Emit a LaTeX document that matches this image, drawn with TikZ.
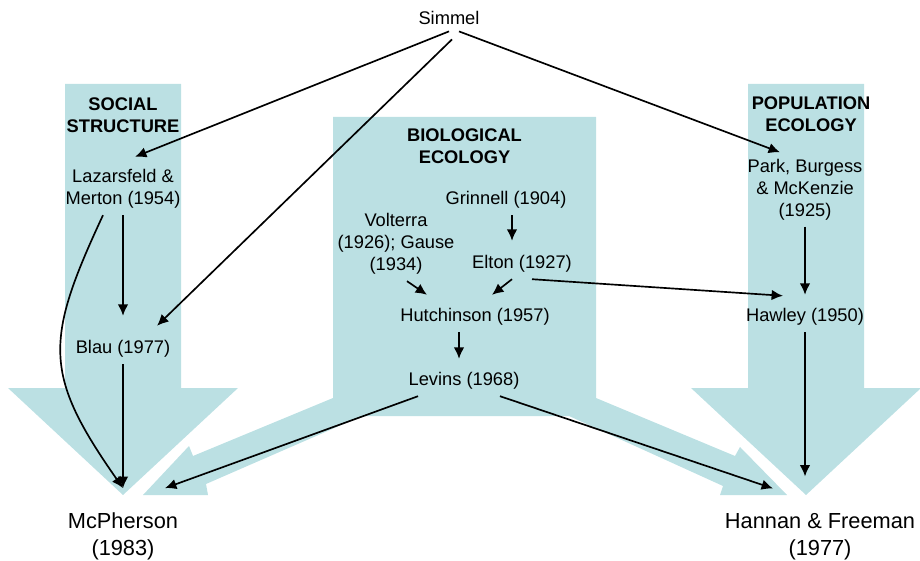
\documentclass[tikz,border=0pt]{standalone}
\usepackage{fontspec}
\setmainfont{Liberation Sans}
\usetikzlibrary{arrows.meta}
\definecolor{bandblue}{RGB}{187,224,227}
\begin{document}
\begin{tikzpicture}[txt/.style={align=center,font=\fontsize{10.4}{12.5}\selectfont},
  hdr/.style={align=center,font=\fontsize{10.4}{12.5}\selectfont\bfseries},
  endtxt/.style={align=center,font=\fontsize{12.4}{15.4}\selectfont},
  band/.style={fill=bandblue,draw=none},
  >={Latex[length=6.5pt,width=6pt]},line width=0.95pt]
\useasboundingbox (0,0) rectangle (18.4,11.2);
% background bands
\fill[band] (1.3,9.52) -- (3.62,9.52) -- (3.62,3.44) -- (4.76,3.44) -- (2.46,1.30) -- (0.16,3.44) -- (1.3,3.44) -- cycle;
\fill[band] (14.96,9.52) -- (17.28,9.52) -- (17.28,3.44) -- (18.42,3.44) -- (16.12,1.30) -- (13.82,3.44) -- (14.96,3.44) -- cycle;
\fill[band] (6.66,8.86) -- (11.92,8.86) -- (11.92,3.24) -- (14.70,2.08) -- (14.80,2.26) -- (15.74,1.30) -- (14.40,1.30) -- (14.46,1.48)
  -- (11.38,2.88) -- (7.24,2.88) -- (4.12,1.52) -- (4.16,1.30) -- (2.86,1.30) -- (3.78,2.28) -- (3.86,2.08) -- (6.66,3.24) -- cycle;
% headings
\node[hdr] (social) at (2.46,8.90) {SOCIAL\\STRUCTURE};
\node[hdr] (biology) at (9.29,8.28) {BIOLOGICAL\\ECOLOGY};
\node[hdr] (population) at (16.22,8.92) {POPULATION\\ECOLOGY};
% authors
\node[txt] (simmel) at (8.98,10.84) {Simmel};
\node[txt] (laz) at (2.46,7.42) {Lazarsfeld \&\\Merton (1954)};
\node[txt] (blau) at (2.46,4.22) {Blau (1977)};
\node[txt] (park) at (16.10,7.41) {Park, Burgess\\\& McKenzie\\(1925)};
\node[txt] (hawley) at (16.10,4.86) {Hawley (1950)};
\node[txt] (grinnell) at (10.12,7.20) {Grinnell (1904)};
\node[txt] (volterra) at (7.92,6.32) {Volterra\\(1926); Gause\\(1934)};
\node[txt] (elton) at (10.44,5.92) {Elton (1927)};
\node[txt] (hutch) at (9.50,4.86) {Hutchinson (1957)};
\node[txt] (levins) at (9.28,3.58) {Levins (1968)};
\node[endtxt] (mcpherson) at (2.46,0.47) {McPherson\\(1983)};
\node[endtxt] (hannan) at (16.40,0.47) {Hannan \& Freeman\\(1977)};
% influences
\draw[->] (simmel.south) -- ([xshift=2.4mm,yshift=1.2mm]laz.north);
\draw[->] ([xshift=0.6mm,yshift=-1.6mm]simmel.south) -- ([xshift=6.8mm,yshift=1.6mm]blau.north);
\draw[->] ([xshift=2mm]simmel.south) -- ([xshift=-5mm]park.north);
\draw[->] (laz.south) -- ([yshift=3.6mm]blau.north);
\draw[->] ([xshift=-4mm]laz.south) to[out=-115,in=125,looseness=1.3] ([yshift=3.6mm]mcpherson.north);
\draw[->] (blau.south) -- ([yshift=3.6mm]mcpherson.north);
\draw[->] (park.south) -- ([yshift=1.4mm]hawley.north);
\draw[->] ([xshift=2mm]elton.south) -- ([xshift=-4.4mm,yshift=1.2mm]hawley.north);
\draw[->,shorten >=6mm] (hawley.south) -- (hawley.south |- hannan.north);
\draw[->] ([xshift=1.2mm]grinnell.south) -- ([xshift=-2mm,yshift=1.6mm]elton.north);
\draw[->] ([xshift=2.2mm]volterra.south) -- ([xshift=-9.6mm,yshift=1.4mm]hutch.north);
\draw[->] ([xshift=-2mm]elton.south) -- ([xshift=3.4mm,yshift=1.4mm]hutch.north);
\draw[->] ([xshift=-3.2mm]hutch.south) -- ([xshift=-1mm,yshift=1.4mm]levins.north);
\draw[->] ([xshift=-9.2mm]levins.south) -- ([xshift=8.4mm,yshift=3.6mm]mcpherson.north);
\draw[->] ([xshift=7.2mm]levins.south) -- ([xshift=-9.4mm,yshift=3.6mm]hannan.north);
\end{tikzpicture}
\end{document}
